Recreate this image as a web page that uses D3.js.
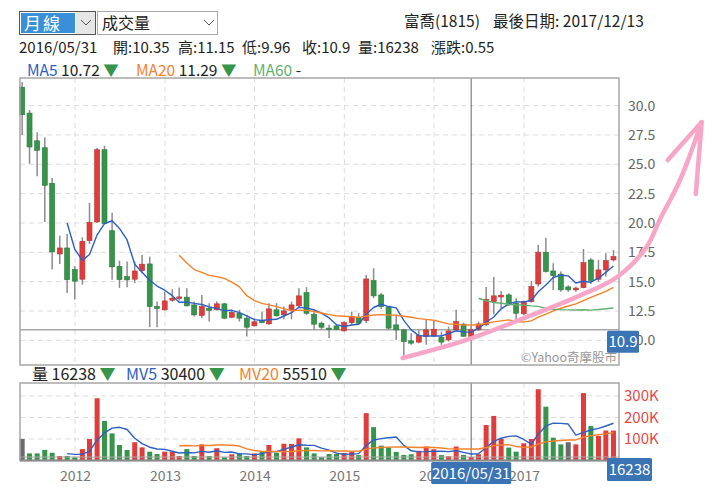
<!DOCTYPE html>
<html>
<head>
<meta charset="utf-8">
<script src="https://d3js.org/d3.v7.min.js"></script>
<style>
  body { margin: 0; background: #fff; }
  svg text { font-family: "Noto Sans CJK TC", "Noto Sans", sans-serif; }
</style>
</head>
<body>
<script>
  // monthly candles, 2011/05 .. 2017/12
  const opens = [31.57, 29.36, 27.0, 26.41, 23.38, 17.36, 17.87, 16.03, 15.21, 18.49,
    20.09, 26.24, 19.34, 16.31, 15.43, 15.21, 15.94, 16.51, 12.88, 12.60,
    13.42, 13.58, 13.68, 13.02, 12.11, 12.74, 12.60, 13.11, 11.97, 12.31,
    11.89, 11.24, 11.69, 11.40, 12.60, 12.17, 12.53, 12.94, 14.07, 12.23,
    11.46, 11.04, 11.23, 10.81, 11.51, 11.97, 11.68, 15.09, 13.87, 12.83,
    11.32, 10.89, 9.96, 9.85, 10.32, 10.38, 10.24, 10.04, 10.89, 11.38,
    10.35, 10.9, 11.35, 13.3, 13.7, 13.87, 13.17, 12.26, 13.30, 14.8,
    17.51, 15.91, 15.64, 14.55, 14.3, 14.49, 16.85, 15.21, 16.0, 16.85];
  const highs = [32.0, 29.64, 27.72, 27.29, 23.83, 18.92, 19.06, 16.34, 18.78, 21.70,
    26.38, 26.58, 20.88, 16.79, 16.71, 16.71, 17.28, 17.13, 13.30, 14.15,
    14.36, 14.50, 14.44, 13.30, 13.87, 13.17, 13.30, 13.20, 12.60, 12.60,
    12.17, 11.89, 12.45, 13.17, 13.17, 12.88, 13.30, 14.44, 14.53, 12.60,
    11.60, 11.32, 11.32, 11.60, 12.45, 12.34, 15.57, 16.14, 14.04, 12.88,
    12.17, 10.98, 10.61, 10.89, 11.74, 11.74, 10.75, 11.17, 12.6, 11.5,
    11.15, 11.6, 14.55, 15.4, 14.2, 14.02, 13.59, 13.4, 15.06, 18.13,
    18.75, 16.57, 15.86, 14.7, 14.58, 17.78, 17.0, 16.85, 17.42, 17.7];
  const lows = [27.5, 25.05, 23.97, 20.09, 16.03, 16.51, 14.04, 13.47, 14.75, 18.21,
    20.0, 19.86, 15.17, 14.47, 14.53, 14.87, 15.72, 11.12, 11.12, 12.54,
    13.30, 13.40, 12.88, 12.03, 11.89, 11.60, 12.54, 11.80, 11.89, 11.60,
    10.32, 11.17, 11.45, 11.32, 12.03, 11.80, 11.80, 12.74, 12.17, 10.89,
    10.89, 10.19, 10.89, 10.75, 11.32, 11.32, 11.46, 13.59, 12.68, 10.89,
    10.04, 8.55, 9.62, 9.76, 9.62, 10.27, 9.62, 9.9, 10.75, 10.3,
    9.96, 10.8, 11.2, 12.2, 12.74, 12.94, 11.80, 12.17, 13.22, 14.58,
    15.77, 14.3, 14.15, 14.15, 14.15, 14.44, 14.81, 15.0, 15.43, 16.71];
  const closes = [29.22, 26.47, 26.19, 23.21, 17.53, 17.87, 15.17, 15.04, 18.44, 20.06,
    26.24, 19.94, 16.26, 15.17, 15.15, 15.91, 16.49, 12.88, 12.71, 13.36,
    13.59, 13.70, 12.94, 12.17, 12.88, 12.54, 13.11, 11.89, 12.37, 11.89,
    11.12, 11.58, 11.51, 12.68, 12.09, 12.51, 13.02, 13.79, 12.31, 11.38,
    11.12, 10.96, 10.92, 11.51, 12.01, 11.46, 15.23, 13.79, 12.88, 11.04,
    10.89, 9.90, 9.76, 10.41, 10.89, 10.95, 9.85, 10.8, 11.6, 10.35,
    10.9, 11.4, 13.5, 13.79, 13.85, 13.02, 12.31, 13.30, 14.58, 17.51,
    15.86, 15.51, 14.3, 14.3, 14.45, 16.62, 15.1, 16.0, 16.79, 17.13];
  const volumes = [100000, 33000, 33000, 49000, 36000, 21000, 21000, 15000, 53000, 100000,
    289000, 184000, 126000, 72000, 49000, 85000, 61000, 41000, 30000, 41000,
    41000, 21000, 53000, 21000, 75000, 21000, 57000, 15000, 29000, 33000,
    21000, 33000, 44000, 72000, 36000, 78000, 77000, 103000, 61000, 33000,
    15000, 30000, 30000, 35000, 40000, 25000, 220000, 155000, 69000, 61000,
    40000, 26000, 29000, 45000, 65000, 52000, 25000, 20000, 65000, 26000,
    16238, 29000, 165000, 207000, 100000, 60000, 41000, 80000, 100000, 331000,
    250000, 106000, 75000, 85000, 75000, 313000, 160000, 114000, 139000, 139000];

  const yearTicks = ["2012", "2013", "2014", "2015", "2016", "2017"];
  const priceTicks = [10, 12.5, 15, 17.5, 20, 22.5, 25, 27.5, 30];
  const volTicks = [100000, 200000, 300000];

  const hoverIndex = 60;
  const maLegend = [["MA5", "10.72"], ["MA20", "11.29"], ["MA60", "-"]];
  const mvLegend = [["MV5", "30400"], ["MV20", "55510"]];

  // hand drawn arrow, [date, price]
  const arrowPath = [["2015-08-26", 8.5], ["2016-05-13", 10.04], ["2017-01-14", 12.0],
    ["2017-08-04", 13.7], ["2018-01-15", 15.4], ["2018-05-15", 17.96], ["2018-07-07", 20.26],
    ["2018-09-28", 23.66], ["2018-12-25", 28.6]];
  const arrowHead = [["2018-08-09", 25.36], ["2018-12-25", 28.6], ["2018-12-01", 22.47]];

  const months = d3.timeMonth.range(new Date(2011, 4, 1), new Date(2018, 0, 1));
  const data = months.map((m, i) => ({
    i: i,
    date: d3.timeDay.offset(d3.timeMonth.offset(m, 1), -1),
    o: opens[i], h: highs[i], l: lows[i], c: closes[i], v: volumes[i]
  }));

  const W = 720, H = 496;
  const left = 20, right = 619;
  const priceTop = 78, priceBottom = 365;
  const volTop = 383, volBottom = 460.5;

  const red = "#e03c3c", green = "#36954b", grey = "#6a6a6a";
  const blue = "#2d5fc4", orange = "#f5822a", maGreen = "#62b26e";
  const tagBlue = "#3b74b5";

  const parse = d3.timeParse("%Y-%m-%d");
  const x = d3.scaleTime().domain([new Date(2012, 0, 1), new Date(2017, 0, 1)]).range([75, 524]);
  x.domain([x.invert(left), x.invert(right)]).range([left, right]);
  const y = d3.scaleLinear().domain([7.9, 32.35]).range([priceBottom, priceTop]);
  const yv = d3.scaleLinear().domain([0, 360000]).range([volBottom, volTop]);
  const yearDates = yearTicks.map(t => new Date(+t, 0, 1));

  const svg = d3.select("body").append("svg").attr("width", W).attr("height", H);

  // ---------- header ----------
  const hdr = svg.append("g").style("font-size", "15px");
  hdr.append("rect").attr("x", 19.5).attr("y", 11.5).attr("width", 76).attr("height", 23)
    .attr("fill", "#fff").attr("stroke", "#555");
  hdr.append("rect").attr("x", 21).attr("y", 13).attr("width", 54).attr("height", 20).attr("fill", "#3a8fd9");
  hdr.append("rect").attr("x", 76).attr("y", 12).attr("width", 19).attr("height", 22).attr("fill", "#e6e6e6");
  hdr.append("text").attr("x", 24).attr("y", 29.5).attr("fill", "#fff").style("font-size", "17px")
    .style("letter-spacing", "2px").text("月線");
  hdr.append("rect").attr("x", 97.5).attr("y", 11.5).attr("width", 120).attr("height", 23)
    .attr("fill", "#fff").attr("stroke", "#aaa");
  hdr.append("text").attr("x", 102).attr("y", 29).attr("fill", "#222").style("font-size", "16px").text("成交量");
  [81, 204].forEach(cx => hdr.append("path").attr("d", `M${cx},20 l5,5 l5,-5`)
    .attr("fill", "none").attr("stroke", "#555").attr("stroke-width", 1));

  hdr.append("text").attr("x", 404).attr("y", 27).attr("fill", "#222").style("font-size", "15.5px").text("富喬(1815)");
  hdr.append("text").attr("x", 493).attr("y", 27).attr("fill", "#222").style("font-size", "15.5px").text("最後日期: 2017/12/13");

  const hv = data[hoverIndex];
  const fmtDate = d3.timeFormat("%Y/%m/%d");
  const chg = +(hv.c - data[hoverIndex - 1].c).toFixed(2);
  const infoParts = [fmtDate(hv.date), "開:" + hv.o, "高:" + hv.h, "低:" + hv.l,
    "收:" + hv.c, "量:" + hv.v, "漲跌:" + chg];
  const infoX = [19, 113, 178, 242, 302, 358, 431];
  infoParts.forEach((t, k) => hdr.append("text").attr("x", infoX[k]).attr("y", 53).attr("fill", "#222").text(t));

  const maColors = [blue, orange, maGreen];
  const maX = [27, 136, 253];
  maLegend.forEach((m, k) => {
    const t = hdr.append("text").attr("x", maX[k]).attr("y", 76).style("font-size", "15.5px").attr("xml:space", "preserve");
    t.append("tspan").attr("fill", maColors[k]).text(m[0]);
    t.append("tspan").attr("fill", "#222").text(" " + m[1] + (m[1] === "-" ? "" : " "));
    if (m[1] !== "-") t.append("tspan").attr("fill", green).text("▼");
  });

  // ---------- price panel ----------
  const pg = svg.append("g");
  pg.append("g").selectAll("line").data(priceTicks).join("line")
    .attr("x1", left).attr("x2", right).attr("y1", d => y(d)).attr("y2", d => y(d))
    .attr("stroke", "#dcdcdc").attr("stroke-dasharray", "5,4");
  pg.append("g").selectAll("line").data(yearDates).join("line")
    .attr("x1", d => x(d)).attr("x2", d => x(d)).attr("y1", priceTop).attr("y2", priceBottom)
    .attr("stroke", "#dcdcdc").attr("stroke-dasharray", "5,4");

  // crosshair
  pg.append("line").attr("x1", left).attr("x2", right).attr("y1", y(hv.c)).attr("y2", y(hv.c))
    .attr("stroke", "#a8a8a8").attr("stroke-width", 1.5);
  pg.append("line").attr("x1", x(hv.date)).attr("x2", x(hv.date)).attr("y1", priceTop).attr("y2", priceBottom)
    .attr("stroke", "#666").attr("stroke-width", 1);

  const bw = 5;
  const candles = pg.append("g").selectAll("g").data(data).join("g");
  candles.append("line")
    .attr("x1", d => x(d.date)).attr("x2", d => x(d.date))
    .attr("y1", d => y(d.h)).attr("y2", d => y(d.l))
    .attr("stroke", "#8c8c8c").attr("stroke-width", 1.5);
  candles.append("rect")
    .attr("x", d => x(d.date) - bw / 2).attr("width", bw)
    .attr("y", d => y(Math.max(d.o, d.c)))
    .attr("height", d => Math.max(1.5, Math.abs(y(d.o) - y(d.c))))
    .attr("fill", d => d.c >= d.o ? red : green)
    .attr("stroke", d => d.c >= d.o ? "#b83232" : "#2a7a3c").attr("stroke-width", 0.6);

  function movingAvg(key, n) {
    const out = [];
    data.forEach((d, i) => {
      if (i < n + 1) return;
      out.push({ date: d.date, v: d3.mean(data.slice(i - n + 1, i + 1), e => e[key]) });
    });
    return out;
  }
  const maLine = d3.line().x(d => x(d.date)).y(d => y(d.v));
  [[5, blue], [20, orange], [60, maGreen]].forEach(([n, col]) => {
    pg.append("path").datum(movingAvg("c", n)).attr("d", maLine)
      .attr("fill", "none").attr("stroke", col).attr("stroke-width", 1.4).attr("stroke-linejoin", "round");
  });

  pg.append("rect").attr("x", left).attr("y", priceTop).attr("width", right - left).attr("height", priceBottom - priceTop)
    .attr("fill", "none").attr("stroke", "#a6a6a6").attr("stroke-width", 1.5);

  const yAxis = pg.append("g").attr("transform", `translate(${right},0)`)
    .call(d3.axisRight(y).tickValues(priceTicks).tickFormat(d3.format(".1f")).tickSize(0).tickPadding(9));
  yAxis.select(".domain").remove();
  yAxis.selectAll("text").attr("fill", "#666").style("font-size", "14px")
    .style("font-family", "'Noto Sans CJK TC', sans-serif");

  pg.append("text").attr("x", 617).attr("y", 362).attr("text-anchor", "end").attr("fill", "#999")
    .style("font-size", "12.5px").text("©Yahoo奇摩股市");

  // ---------- volume panel ----------
  const vg = svg.append("g");
  vg.append("g").selectAll("line").data(volTicks).join("line")
    .attr("x1", left).attr("x2", right).attr("y1", d => yv(d)).attr("y2", d => yv(d))
    .attr("stroke", "#dcdcdc").attr("stroke-dasharray", "5,4");
  vg.append("g").selectAll("line").data(yearDates).join("line")
    .attr("x1", d => x(d)).attr("x2", d => x(d)).attr("y1", volTop).attr("y2", volBottom)
    .attr("stroke", "#dcdcdc").attr("stroke-dasharray", "5,4");
  vg.append("line").attr("x1", x(hv.date)).attr("x2", x(hv.date)).attr("y1", volTop).attr("y2", volBottom)
    .attr("stroke", "#666").attr("stroke-width", 1);

  vg.append("g").selectAll("rect").data(data).join("rect")
    .attr("x", d => x(d.date) - bw / 2).attr("width", bw)
    .attr("y", d => yv(d.v)).attr("height", d => yv(0) - yv(d.v))
    .attr("fill", (d, i) => {
      if (i === 0 || d.c === data[i - 1].c) return grey;
      return d.c > data[i - 1].c ? red : green;
    });

  const mvLine = d3.line().x(d => x(d.date)).y(d => yv(d.v));
  [[5, blue], [20, orange]].forEach(([n, col]) => {
    vg.append("path").datum(movingAvg("v", n)).attr("d", mvLine)
      .attr("fill", "none").attr("stroke", col).attr("stroke-width", 1.4).attr("stroke-linejoin", "round");
  });
  vg.append("line").attr("x1", left).attr("x2", right).attr("y1", yv(hv.v)).attr("y2", yv(hv.v))
    .attr("stroke", "#a8a8a8").attr("stroke-width", 1);

  vg.append("rect").attr("x", left).attr("y", volTop).attr("width", right - left).attr("height", volBottom - volTop)
    .attr("fill", "none").attr("stroke", "#a6a6a6").attr("stroke-width", 1.5);
  vg.append("line").attr("x1", left).attr("x2", right).attr("y1", volBottom).attr("y2", volBottom)
    .attr("stroke", "#8a8a8a").attr("stroke-width", 2.2);

  const vAxis = vg.append("g").attr("transform", `translate(${right},0)`)
    .call(d3.axisRight(yv).tickValues(volTicks).tickFormat(d => d / 1000 + "K").tickSize(0).tickPadding(5));
  vAxis.select(".domain").remove();
  vAxis.selectAll("text").attr("fill", "#e8474a").style("font-size", "15px")
    .style("font-family", "'Noto Sans CJK TC', sans-serif");

  const xAxis = vg.append("g").attr("transform", `translate(0,${volBottom})`)
    .call(d3.axisBottom(x).tickValues(yearDates).tickFormat(d3.timeFormat("%Y")).tickSize(0).tickPadding(11));
  xAxis.select(".domain").remove();
  xAxis.selectAll("text").attr("fill", "#777").style("font-size", "14px")
    .style("font-family", "'Noto Sans CJK TC', sans-serif");

  const legendY = 380;
  const volLabel = vg.append("text").attr("x", 32).attr("y", legendY).style("font-size", "16px").attr("xml:space", "preserve");
  volLabel.append("tspan").attr("fill", "#222").text("量 " + hv.v + " ");
  volLabel.append("tspan").attr("fill", green).text("▼");
  const mvX = [126, 239];
  mvLegend.forEach((m, k) => {
    const t = vg.append("text").attr("x", mvX[k]).attr("y", legendY).style("font-size", "16px").attr("xml:space", "preserve");
    t.append("tspan").attr("fill", [blue, orange][k]).text(m[0]);
    t.append("tspan").attr("fill", "#222").text(" " + m[1] + " ");
    t.append("tspan").attr("fill", green).text("▼");
  });

  // ---------- hand drawn arrow ----------
  const arrowLine = d3.line().x(d => x(parse(d[0]))).y(d => y(d[1]));
  svg.append("path").datum(arrowPath).attr("d", arrowLine.curve(d3.curveCatmullRom))
    .attr("fill", "none").attr("stroke", "#f8a6c8").attr("stroke-width", 4.5).attr("stroke-linecap", "round");
  svg.append("path").datum(arrowHead).attr("d", d3.line().x(d => x(parse(d[0]))).y(d => y(d[1])))
    .attr("fill", "none").attr("stroke", "#f8a6c8").attr("stroke-width", 4.5)
    .attr("stroke-linecap", "round").attr("stroke-linejoin", "round");

  // ---------- crosshair tags ----------
  function tag(cx, top, w, h, label) {
    svg.append("rect").attr("x", cx - w / 2).attr("y", top).attr("width", w).attr("height", h)
      .attr("fill", tagBlue).attr("rx", 1.5);
    svg.append("text").attr("x", cx).attr("y", top + h / 2 + 5.5).attr("text-anchor", "middle")
      .attr("fill", "#fff").style("font-size", "15px").text(label);
  }
  tag(623, y(hv.c) + 1, 32, 22, hv.c);
  tag(x(hv.date), 462, 80, 22, fmtDate(hv.date));
  tag(629.5, yv(hv.v) + 1, 45, 23, hv.v);
</script>
</body>
</html>
